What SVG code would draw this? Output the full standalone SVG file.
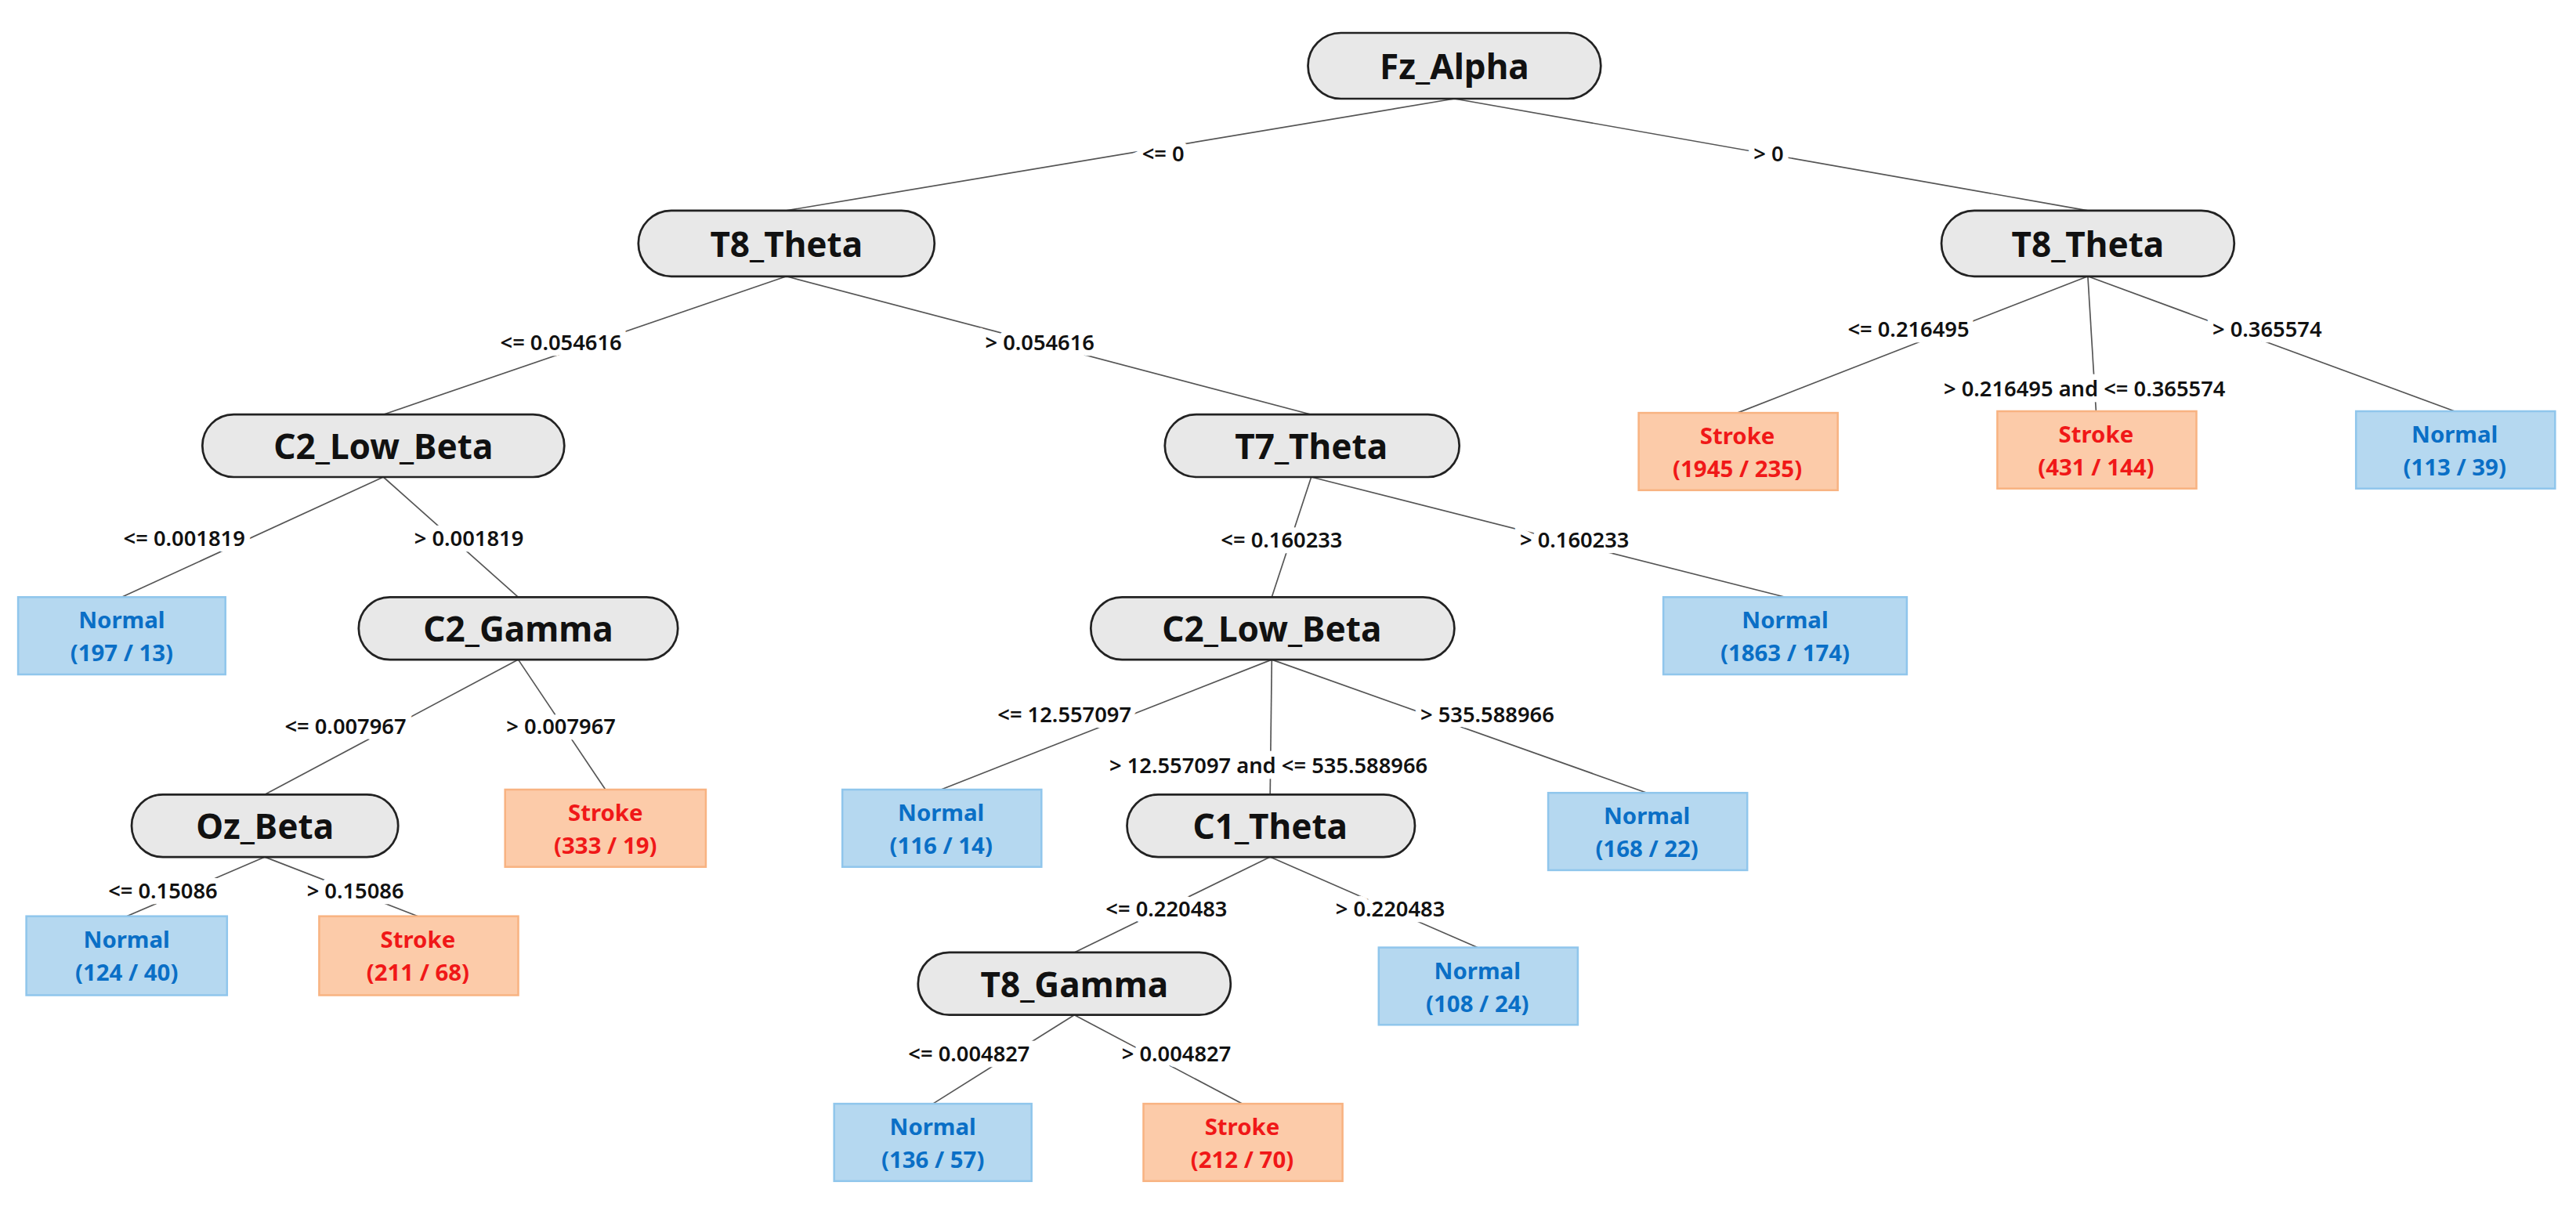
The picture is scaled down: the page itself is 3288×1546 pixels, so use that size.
<svg xmlns="http://www.w3.org/2000/svg" width="3288" height="1546" viewBox="0 0 3288 1546">
<style>
.pill{fill:#e8e8e8;stroke:#222;stroke-width:1.3}
.pt{font-family:"Noto Sans",sans-serif;font-weight:bold;font-size:21px;fill:#111;text-anchor:middle;dominant-baseline:central}
.nb{fill:#b5d8f0;stroke:#90c6ec;stroke-width:1.2}
.sb{fill:#fccba9;stroke:#f8b382;stroke-width:1.2}
.nt{font-family:"Noto Sans",sans-serif;font-weight:bold;font-size:14px;fill:#0a6fc6;text-anchor:middle}
.st{font-family:"Noto Sans",sans-serif;font-weight:bold;font-size:14px;fill:#f01818;text-anchor:middle}
.e line{stroke:#555;stroke-width:0.8}
.el{font-family:"Noto Sans",sans-serif;font-weight:600;font-size:13px;fill:#111;text-anchor:middle;dominant-baseline:central;stroke:#fff;stroke-width:7;paint-order:stroke}
</style>
<rect width="3288" height="1546" fill="#fff"/>
<g transform="scale(2.1)">
<g id="connectors" class="e">
<line x1="884" y1="60" x2="478" y2="128"/><line x1="884" y1="60" x2="1269" y2="128"/>
<line x1="478" y1="168" x2="233" y2="252"/><line x1="478" y1="168" x2="797" y2="252"/>
<line x1="1269" y1="168" x2="1056" y2="251"/><line x1="1269" y1="168" x2="1274" y2="250"/><line x1="1269" y1="168" x2="1492" y2="250"/>
<line x1="233" y1="290" x2="74" y2="363"/><line x1="233" y1="290" x2="315" y2="363"/>
<line x1="797" y1="290" x2="773" y2="363"/><line x1="797" y1="290" x2="1085" y2="363"/>
<line x1="315" y1="401" x2="161" y2="483"/><line x1="315" y1="401" x2="368" y2="480"/>
<line x1="773" y1="401" x2="572" y2="480"/><line x1="773" y1="401" x2="772" y2="483"/><line x1="773" y1="401" x2="1001" y2="482"/>
<line x1="161" y1="521" x2="77" y2="557"/><line x1="161" y1="521" x2="254" y2="557"/>
<line x1="772" y1="521" x2="653" y2="579"/><line x1="772" y1="521" x2="898" y2="576"/>
<line x1="653" y1="617" x2="567" y2="671"/><line x1="653" y1="617" x2="755" y2="671"/>
<text class="el" x="707" y="93">&lt;= 0</text><text class="el" x="1075" y="93">&gt; 0</text>
<text class="el" x="341" y="208">&lt;= 0.054616</text><text class="el" x="632" y="208">&gt; 0.054616</text>
<text class="el" x="1160" y="200">&lt;= 0.216495</text><text class="el" x="1267" y="236">&gt; 0.216495 and &lt;= 0.365574</text><text class="el" x="1378" y="200">&gt; 0.365574</text>
<text class="el" x="112" y="327">&lt;= 0.001819</text><text class="el" x="285" y="327">&gt; 0.001819</text>
<text class="el" x="779" y="328">&lt;= 0.160233</text><text class="el" x="957" y="328">&gt; 0.160233</text>
<text class="el" x="210" y="441">&lt;= 0.007967</text><text class="el" x="341" y="441">&gt; 0.007967</text>
<text class="el" x="647" y="434">&lt;= 12.557097</text><text class="el" x="771" y="465">&gt; 12.557097 and &lt;= 535.588966</text><text class="el" x="904" y="434">&gt; 535.588966</text>
<text class="el" x="99" y="541">&lt;= 0.15086</text><text class="el" x="216" y="541">&gt; 0.15086</text>
<text class="el" x="709" y="552">&lt;= 0.220483</text><text class="el" x="845" y="552">&gt; 0.220483</text>
<text class="el" x="589" y="640">&lt;= 0.004827</text><text class="el" x="715" y="640">&gt; 0.004827</text>
</g>
<g id="fz_alpha"><rect class="pill" x="795" y="20" width="178" height="40" rx="20"/><text class="pt" x="884" y="40">Fz_Alpha</text></g>
<g id="t8_theta_l"><rect class="pill" x="388" y="128" width="180" height="40" rx="20"/><text class="pt" x="478" y="148">T8_Theta</text></g>
<g id="t8_theta_r"><rect class="pill" x="1180" y="128" width="178" height="40" rx="20"/><text class="pt" x="1269" y="148">T8_Theta</text></g>
<g id="c2_low_beta_1"><rect class="pill" x="123" y="252" width="220" height="38" rx="19"/><text class="pt" x="233" y="271">C2_Low_Beta</text></g>
<g id="t7_theta"><rect class="pill" x="708" y="252" width="179" height="38" rx="19"/><text class="pt" x="797" y="271">T7_Theta</text></g>
<g id="c2_gamma"><rect class="pill" x="218" y="363" width="194" height="38" rx="19"/><text class="pt" x="315" y="382">C2_Gamma</text></g>
<g id="c2_low_beta_2"><rect class="pill" x="663" y="363" width="221" height="38" rx="19"/><text class="pt" x="773" y="382">C2_Low_Beta</text></g>
<g id="oz_beta"><rect class="pill" x="80" y="483" width="162" height="38" rx="19"/><text class="pt" x="161" y="502">Oz_Beta</text></g>
<g id="c1_theta"><rect class="pill" x="685" y="483" width="175" height="38" rx="19"/><text class="pt" x="772" y="502">C1_Theta</text></g>
<g id="t8_gamma"><rect class="pill" x="558" y="579" width="190" height="38" rx="19"/><text class="pt" x="653" y="598">T8_Gamma</text></g>
<g id="leaf1"><rect class="sb" x="996" y="251" width="121" height="47"/><text class="st" x="1056" y="270">Stroke</text><text class="st" x="1056" y="290">(1945 / 235)</text></g>
<g id="leaf2"><rect class="sb" x="1214" y="250" width="121" height="47"/><text class="st" x="1274" y="269">Stroke</text><text class="st" x="1274" y="289">(431 / 144)</text></g>
<g id="leaf3"><rect class="nb" x="1432" y="250" width="121" height="47"/><text class="nt" x="1492" y="269">Normal</text><text class="nt" x="1492" y="289">(113 / 39)</text></g>
<g id="leaf4"><rect class="nb" x="11" y="363" width="126" height="47"/><text class="nt" x="74" y="382">Normal</text><text class="nt" x="74" y="402">(197 / 13)</text></g>
<g id="leaf5"><rect class="nb" x="1011" y="363" width="148" height="47"/><text class="nt" x="1085" y="382">Normal</text><text class="nt" x="1085" y="402">(1863 / 174)</text></g>
<g id="leaf6"><rect class="sb" x="307" y="480" width="122" height="47"/><text class="st" x="368" y="499">Stroke</text><text class="st" x="368" y="519">(333 / 19)</text></g>
<g id="leaf7"><rect class="nb" x="512" y="480" width="121" height="47"/><text class="nt" x="572" y="499">Normal</text><text class="nt" x="572" y="519">(116 / 14)</text></g>
<g id="leaf8"><rect class="nb" x="941" y="482" width="121" height="47"/><text class="nt" x="1001" y="501">Normal</text><text class="nt" x="1001" y="521">(168 / 22)</text></g>
<g id="leaf9"><rect class="nb" x="16" y="557" width="122" height="48"/><text class="nt" x="77" y="576">Normal</text><text class="nt" x="77" y="596">(124 / 40)</text></g>
<g id="leaf10"><rect class="sb" x="194" y="557" width="121" height="48"/><text class="st" x="254" y="576">Stroke</text><text class="st" x="254" y="596">(211 / 68)</text></g>
<g id="leaf11"><rect class="nb" x="838" y="576" width="121" height="47"/><text class="nt" x="898" y="595">Normal</text><text class="nt" x="898" y="615">(108 / 24)</text></g>
<g id="leaf12"><rect class="nb" x="507" y="671" width="120" height="47"/><text class="nt" x="567" y="690">Normal</text><text class="nt" x="567" y="710">(136 / 57)</text></g>
<g id="leaf13"><rect class="sb" x="695" y="671" width="121" height="47"/><text class="st" x="755" y="690">Stroke</text><text class="st" x="755" y="710">(212 / 70)</text></g>
</g>
</svg>
